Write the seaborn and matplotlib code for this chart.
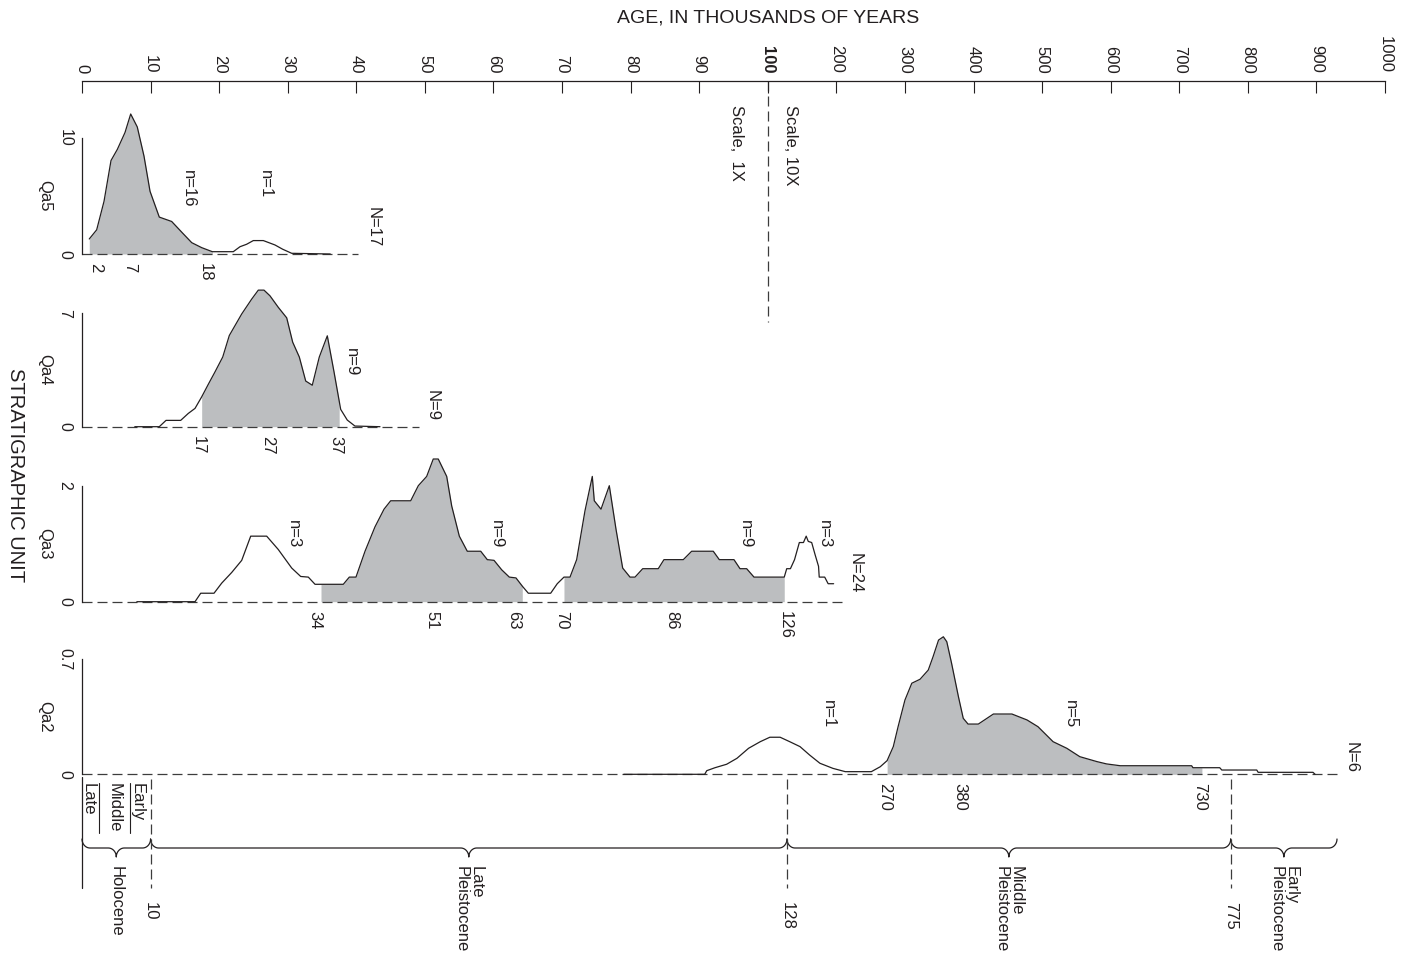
# Age-probability plots of stratigraphic units Qa5 - Qa2
# broken age axis: 0-100 ka at 1X, 100-1000 ka at 10X

import numpy as np
import matplotlib
matplotlib.use("Agg")
import matplotlib.pyplot as plt
import seaborn as sns

# ---------------------------
# DATA
# ---------------------------

qa5_age = [1.06, 2.14, 3.21, 4.23, 5.15, 6.27, 7.10, 8.06, 9.04, 9.92, 11.27, 13.08,
           14.68, 16.0, 17.45, 19.0, 22.06, 23.04, 24.0, 24.98, 26.44, 28.14, 29.27,
           30.58, 36.2]
qa5_prob = [1.30, 2.09, 4.55, 8.08, 9.04, 10.5, 12.1, 10.98, 8.46, 5.42, 3.19, 2.81,
            1.80, 0.98, 0.55, 0.2, 0.2, 0.63, 0.84, 1.16, 1.16, 0.78, 0.41, 0.06, 0]

qa4_age = [7.7, 11.27, 12.25, 14.39, 15.5, 16.48, 17.45, 18.42, 19.39, 20.52, 21.48,
           23.29, 24.75, 25.71, 26.54, 27.41, 28.62, 29.85, 30.72, 31.69, 32.62, 33.58,
           34.6, 35.77, 36.75, 37.72, 38.68, 39.8, 43.45]
qa4_prob = [0, 0, 0.39, 0.39, 0.82, 1.13, 1.84, 2.62, 3.38, 4.30, 5.63, 6.96, 7.88,
            8.43, 8.43, 8.08, 7.37, 6.72, 5.22, 4.30, 2.82, 2.56, 4.30, 5.61, 3.38,
            1.07, 0.41, 0.04, 0]

qa3_age = [8.0, 16.48, 17.31, 19.25, 20.37, 21.83, 23.29, 24.6, 26.93, 28.62, 30.58,
           31.89, 33.0, 33.98, 38.1, 38.98, 39.95, 41.27, 42.72, 44.04, 45.01, 47.93,
           49.04, 50.26, 51.22, 51.95, 53.18, 53.91, 55.02, 56.18, 58.14, 59.1, 60.08,
           61.2, 62.31, 63.28, 64.26, 65.08, 68.34, 69.3, 70.28, 71.16, 72.13, 73.34,
           74.41, 74.7, 75.68, 76.89, 77.87, 78.84, 79.91, 80.64, 81.76, 84.03, 84.86,
           87.68, 88.9, 92.05, 92.93, 95.07, 95.95, 96.92, 97.99, 124, 127.6, 133,
           139, 146, 152, 156, 159, 164, 169, 174, 175, 183, 188, 196]
qa3_prob = [0, 0, 0.146, 0.146, 0.32, 0.504, 0.713, 1.13, 1.13, 0.90, 0.58, 0.435,
            0.424, 0.30, 0.30, 0.424, 0.424, 0.87, 1.29, 1.595, 1.74, 1.74, 2.0, 2.16,
            2.46, 2.46, 2.16, 1.65, 1.13, 0.87, 0.87, 0.725, 0.713, 0.55, 0.424, 0.41,
            0.26, 0.146, 0.146, 0.31, 0.424, 0.424, 0.725, 1.565, 2.16, 1.74, 1.595,
            2.0, 1.247, 0.58, 0.424, 0.424, 0.569, 0.569, 0.725, 0.725, 0.87, 0.87,
            0.725, 0.725, 0.569, 0.569, 0.424, 0.424, 0.569, 0.569, 0.725, 1.02, 1.02,
            1.13, 1.04, 1.02, 0.81, 0.61, 0.424, 0.424, 0.31, 0.31]

qa2_age = [79, 90.8, 91.1, 92.3, 94.0, 95.5, 97.2, 98.9, 103, 118, 132, 147, 161, 176,
           195, 213, 251, 264, 274, 283, 290, 300, 310, 322, 334, 341, 349, 356, 361,
           368, 378, 385, 392, 407, 429, 456, 478, 494, 516, 536, 555, 580, 594, 614,
           718, 720, 759, 762, 813, 815, 895, 898]
qa2_prob = [0, 0, 0.022, 0.040, 0.061, 0.097, 0.158, 0.198, 0.225, 0.225, 0.198, 0.168,
            0.117, 0.067, 0.036, 0.016, 0.016, 0.046, 0.083, 0.168, 0.289, 0.451, 0.553,
            0.577, 0.633, 0.714, 0.815, 0.835, 0.805, 0.674, 0.471, 0.340, 0.305, 0.305,
            0.366, 0.366, 0.330, 0.289, 0.198, 0.158, 0.107, 0.077, 0.063, 0.052, 0.052,
            0.040, 0.040, 0.026, 0.026, 0.012, 0.012, 0]

# shaded age ranges, ages printed under each curve, baseline length
qa5_shade = [(1.06, 19.0)]
qa4_shade = [(17.45, 37.5)]
qa3_shade = [(34.85, 64.2), (70.28, 124)]
qa2_shade = [(274, 733)]

qa5_marks = [2, 7, 18]
qa4_marks = [17, 27, 37]
qa3_marks = [34, 51, 63, 70, 86, 126]
qa2_marks = [270, 380, 730]

# sample counts: (text, age, height)
qa5_counts = [("n=16", 15.5, 7.25), ("n=1", 26.7, 7.25), ("N=17", 42.4, 4.05)]
qa4_counts = [("n=9", 39.3, 4.85), ("N=9", 51.0, 2.27)]
qa3_counts = [("n=3", 30.8, 1.41), ("n=9", 60.5, 1.41), ("n=9", 96.7, 1.41),
              ("n=3", 183, 1.41), ("N=24", 227, 0.84)]
qa2_counts = [("n=1", 188, 0.45), ("n=5", 541, 0.45), ("N=6", 951, 0.198)]

units = ["Qa5", "Qa4", "Qa3", "Qa2"]
unit_top_tick = [10, 7, 2, 0.7]
unit_tick_text = ["10", "7", "2", "0.7"]
unit_baseline_end = [40.2, 49.2, 212, 930]

age_ticks = list(range(0, 101, 10)) + list(range(200, 1001, 100))

# time scale
epoch_bounds = [0, 10, 128, 775, 930]
epoch_names = ["Holocene", "Late\nPleistocene", "Middle\nPleistocene", "Early\nPleistocene"]
boundary_ages = [10, 128, 775]
holocene_parts = ["Late", "Middle", "Early"]
holocene_part_ages = [0.95, 4.7, 8.1]
holocene_rule_ages = [2.5, 7.0]

# ---------------------------
# STYLE / LAYOUT
# ---------------------------

sns.set_style("white")
plt.rcParams['font.family'] = ['Liberation Sans', 'DejaVu Sans']

INK = "#231f20"
FILL = "#bcbec0"
DASH = "#3c3c3c"
FS = 12

W, H = 1405, 956
X0, X1 = 82, 1385
PX_U = (X1 - X0) / 190.0


def fwd(a):
    a = np.asarray(a, dtype=float)
    return np.where(a <= 100, a, 100 + (a - 100) / 10.0)


def inv(u):
    u = np.asarray(u, dtype=float)
    return np.where(u <= 100, u, 100 + (u - 100) * 10.0)


def rect(top, bottom):
    return [X0 / W, 1 - bottom / H, (X1 - X0) / W, (bottom - top) / H]


def age_axes(r, z):
    ax = fig.add_axes(r, zorder=z)
    ax.set_xscale('function', functions=(fwd, inv))
    ax.set_xlim(0, 1000)
    ax.patch.set_alpha(0)
    return ax


fig = plt.figure(figsize=(W / 100, H / 100), dpi=100)

# background axes: x = age, y = pixel row (for annotations and time scale)
ax_bg = age_axes(rect(0, H), 0)
ax_bg.set_ylim(H, 0)
ax_bg.axis('off')

# ---------------------------
# TOP AGE AXIS
# ---------------------------

ax_top = age_axes(rect(81, 95), 1)
for s in ['left', 'right', 'bottom']:
    ax_top.spines[s].set_visible(False)
ax_top.spines['top'].set_linewidth(0.9)
ax_top.spines['top'].set_color(INK)
ax_top.set_yticks([])
ax_top.xaxis.tick_top()
ax_top.set_xticks(age_ticks, [str(t) for t in age_ticks])
ax_top.tick_params(axis='x', direction='in', length=8.6, width=0.8, color=INK,
                   pad=5.5, labelsize=FS, labelcolor=INK, labelrotation=-90)
for lbl in ax_top.get_xticklabels():
    if lbl.get_text() == "100":
        lbl.set_fontweight('bold')

ax_bg.text(100, 18, "AGE, IN THOUSANDS OF YEARS", ha='center', va='center',
           fontsize=14, color=INK)
ax_bg.plot([100, 100], [81, 322], color=DASH, lw=0.9, ls=(0, (8, 4)), clip_on=False)
ax_bg.text(95.4, 105, "Scale,  1X", rotation=-90, ha='center', va='top',
           fontsize=FS, color=INK)
ax_bg.text(132.5, 105, "Scale, 10X", rotation=-90, ha='center', va='top',
           fontsize=FS, color=INK)

# ---------------------------
# PROBABILITY PANELS
# ---------------------------

panel_ages = [qa5_age, qa4_age, qa3_age, qa2_age]
panel_probs = [qa5_prob, qa4_prob, qa3_prob, qa2_prob]
panel_shades = [qa5_shade, qa4_shade, qa3_shade, qa2_shade]
panel_marks = [qa5_marks, qa4_marks, qa3_marks, qa2_marks]
panel_counts = [qa5_counts, qa4_counts, qa3_counts, qa2_counts]

baseline_px = [254, 426.7, 601.7, 774.3]
px_per_unit = [11.57, 16.2, 58.0, 164.7]
PANEL_H = 150

for i, unit in enumerate(units):
    base = baseline_px[i]
    ax = age_axes(rect(base - PANEL_H, base), 2 + i)
    ax.set_ylim(0, PANEL_H / px_per_unit[i])
    ax.xaxis.set_visible(False)
    for s in ['top', 'right', 'bottom']:
        ax.spines[s].set_visible(False)
    ax.spines['left'].set_bounds(0, unit_top_tick[i])
    ax.spines['left'].set_linewidth(0.9)
    ax.spines['left'].set_color(INK)
    ax.set_yticks([0, unit_top_tick[i]], ["0", unit_tick_text[i]])
    ax.tick_params(axis='y', direction='in', length=8.6, width=0.9, color=INK,
                   pad=7, labelsize=11.5, labelcolor=INK, labelrotation=-90)
    for lbl in ax.get_yticklabels():
        lbl.set_va('center')

    x = np.asarray(panel_ages[i], dtype=float)
    y = np.asarray(panel_probs[i], dtype=float)

    # shaded part of the curve
    for a, b in panel_shades[i]:
        m = (x > a) & (x < b)
        xs = np.r_[a, x[m], b]
        ys = np.r_[np.interp(a, x, y), y[m], np.interp(b, x, y)]
        ax.fill_between(xs, 0, ys, color=FILL, lw=0, zorder=1)

    ax.hlines(0, 0, unit_baseline_end[i], color=DASH, lw=0.9,
              linestyles=(0, (8, 4)), zorder=2, clip_on=False)
    sns.lineplot(x=x, y=y, ax=ax, color=INK, linewidth=0.9, sort=False,
                 estimator=None, zorder=3, clip_on=False)
    ax.set_xlabel("")
    ax.set_ylabel("")

    for m_age in panel_marks[i]:
        ax.annotate(str(m_age), (m_age, 0), xytext=(0, -9), textcoords='offset pixels',
                    rotation=-90, ha='center', va='top', fontsize=FS, color=INK)
    for txt, c_age, c_y in panel_counts[i]:
        ax.text(c_age, c_y, txt, rotation=-90, ha='center', va='top',
                fontsize=FS, color=INK)

    ax.text(-0.0284, unit_top_tick[i] / 2, unit, transform=ax.get_yaxis_transform(),
            rotation=-90, ha='center', va='center', fontsize=FS, color=INK)

fig.text(15 / W, 1 - 475 / H, "STRATIGRAPHIC UNIT", rotation=-90, ha='center',
         va='center', fontsize=14.5, color=INK)

# ---------------------------
# TIME SCALE (braces)
# ---------------------------

Y_TIP, Y_LINE, Y_CUSP = 839, 848, 857
r = 8 / PX_U
t = np.linspace(0, np.pi / 2, 16)

for k, (a, b) in enumerate(zip(epoch_bounds[:-1], epoch_bounds[1:])):
    ua, ub = float(fwd(a)), float(fwd(b))
    uc = (ua + ub) / 2
    lx = np.r_[ua + r * (1 - np.cos(t)), uc - r + r * np.sin(t)]
    ly = np.r_[Y_TIP + (Y_LINE - Y_TIP) * np.sin(t), Y_LINE + (Y_CUSP - Y_LINE) * (1 - np.cos(t))]
    bx = np.r_[lx, (2 * uc - lx)[::-1]]
    by = np.r_[ly, ly[::-1]]
    ax_bg.plot(inv(bx), by, color=INK, lw=0.9, clip_on=False)
    ax_bg.text(float(inv(uc)), 866, epoch_names[k], rotation=-90, ha='center', va='top',
               multialignment='left', fontsize=FS, color=INK, linespacing=1.0)

ax_bg.plot([0, 0], [777, 888], color=INK, lw=0.9, clip_on=False)
for b_age in boundary_ages:
    ax_bg.plot([b_age, b_age], [779, 888], color=DASH, lw=0.9, ls=(0, (8, 4)), clip_on=False)
    ax_bg.text(b_age, 902, str(b_age), rotation=-90, ha='center', va='top',
               fontsize=FS, color=INK)

for name, p_age in zip(holocene_parts, holocene_part_ages):
    ax_bg.text(p_age, 783, name, rotation=-90, ha='center', va='top',
               fontsize=FS, color=INK)
for r_age in holocene_rule_ages:
    ax_bg.plot([r_age, r_age], [783, 833], color=INK, lw=0.8, clip_on=False)

fig.savefig("out.png", dpi=100)
